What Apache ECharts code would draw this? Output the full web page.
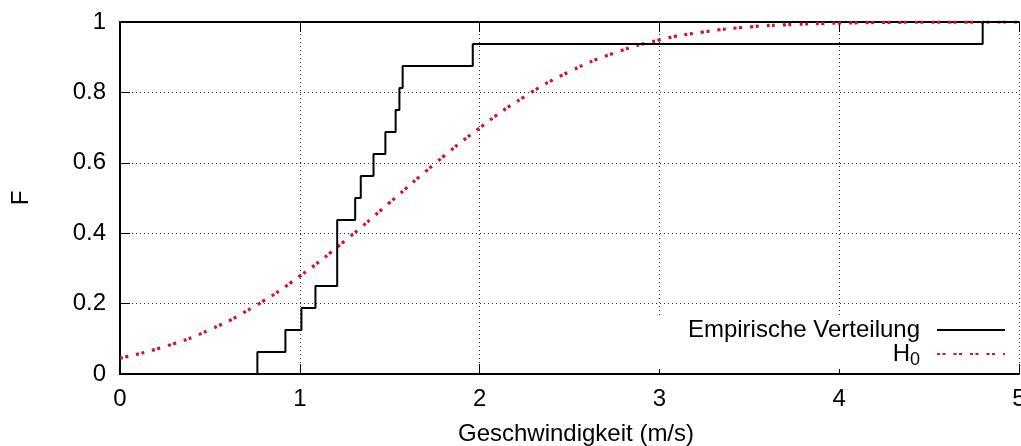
<!DOCTYPE html>
<html>
<head>
<meta charset="utf-8">
<script src="https://cdn.jsdelivr.net/npm/echarts/dist/echarts.min.js"></script>
<style>
  html, body { margin: 0; padding: 0; background: #fff; }
  #chart { width: 1021px; height: 446px; }
</style>
</head>
<body>
<div id="chart"></div>
<script>
// Sprungstellen der empirischen Verteilung (m/s) und Wert nach dem Sprung
const jumpX = [0.764, 0.920, 1.009, 1.087, 1.208, 1.308, 1.339, 1.410, 1.476, 1.533, 1.554, 1.572, 1.962, 4.798]
const jumpF = [0.0625, 0.125, 0.1875, 0.25, 0.4375, 0.5, 0.5625, 0.625, 0.6875, 0.75, 0.8125, 0.875, 0.9375, 1.0]

// H0
const h0X = [0, 0.25, 0.5, 0.75, 1.0, 1.25, 1.5, 1.75, 2.0, 2.25, 2.5, 2.75, 3.0, 3.25, 3.5, 3.75, 4.0, 4.5, 5.0]
const h0F = [0.045, 0.078, 0.126, 0.193, 0.278, 0.378, 0.487, 0.597, 0.699, 0.788, 0.859, 0.912, 0.949, 0.972, 0.986, 0.993, 0.997, 0.9995, 1.0]

const xTicks = { min: 0, max: 5, interval: 1 }
const yTicks = { min: 0, max: 1, interval: 0.2 }

const FONT = 'Liberation Sans'
const FS = 24
const RED = '#d0103a'

const empData = [[0, 0]].concat(jumpX.map((x, i) => [x, jumpF[i]]), [[5, 1]])
const h0Data = h0X.map((x, i) => [x, h0F[i]])

const chart = echarts.init(document.getElementById('chart'))

const gridLine = { show: true, lineStyle: { color: '#333', width: 1, type: [1, 3] } }
const tick = { show: true, inside: true, length: 10, lineStyle: { color: '#000', width: 1 } }

chart.setOption({
  animation: false,
  textStyle: { fontFamily: FONT },
  grid: { left: 120, right: 2, top: 22, bottom: 72, outerBoundsMode: 'none', containLabel: false },
  legend: {
    orient: 'vertical',
    align: 'right',
    right: 2,
    top: 317,
    padding: [1, 13, 0, 36],
    itemGap: -3,
    itemWidth: 68,
    itemHeight: 14,
    selectedMode: false,
    backgroundColor: '#fff',
    itemStyle: { opacity: 0 },
    data: ['Empirische Verteilung', 'H0'],
    formatter: name => name === 'H0' ? '{h|H}{s|0}' : '{h|' + name + '}',
    textStyle: {
      color: '#000',
      fontFamily: FONT,
      fontSize: FS,
      padding: [0, 12, 0, 0],
      rich: {
        h: { fontSize: FS, lineHeight: 23, fontFamily: FONT, color: '#000' },
        s: { fontSize: 18, lineHeight: 18, fontFamily: FONT, color: '#000', padding: [12, 0, 0, 0] }
      }
    }
  },
  xAxis: [
    {
      type: 'value',
      ...xTicks,
      name: 'Geschwindigkeit (m/s)',
      nameLocation: 'middle',
      nameGap: 48,
      nameTextStyle: { fontSize: FS, color: '#000', fontFamily: FONT, padding: [0, 0, 0, 13] },
      axisLine: { show: true, lineStyle: { color: '#000', width: 2 } },
      axisTick: tick,
      axisLabel: { fontSize: FS, color: '#000', margin: 13, fontFamily: FONT },
      splitLine: gridLine
    },
    {
      type: 'value',
      position: 'top',
      ...xTicks,
      axisLine: { show: true, lineStyle: { color: '#000', width: 2 } },
      axisTick: tick,
      axisLabel: { show: false },
      splitLine: { show: false }
    }
  ],
  yAxis: {
    type: 'value',
    ...yTicks,
    name: 'F',
    nameLocation: 'middle',
    nameRotate: 90,
    nameGap: 87,
    nameTextStyle: { fontSize: FS, color: '#000', fontFamily: FONT },
    axisLine: { show: true, lineStyle: { color: '#000', width: 2 } },
    axisTick: tick,
    axisLabel: { fontSize: FS, color: '#000', margin: 14, fontFamily: FONT, padding: [3, 0, 0, 0] },
    splitLine: gridLine
  },
  series: [
    {
      name: 'Empirische Verteilung',
      type: 'line',
      step: 'end',
      data: empData,
      symbol: 'none',
      lineStyle: { color: '#000', width: 2 },
      itemStyle: { color: '#000' },
      z: 3
    },
    {
      name: 'H0',
      type: 'line',
      smooth: true,
      data: h0Data,
      symbol: 'none',
      lineStyle: { color: RED, width: 3.2, type: [3, 2.5, 3, 8] },
      itemStyle: { color: RED },
      z: 2
    }
  ]
})
</script>
</body>
</html>
